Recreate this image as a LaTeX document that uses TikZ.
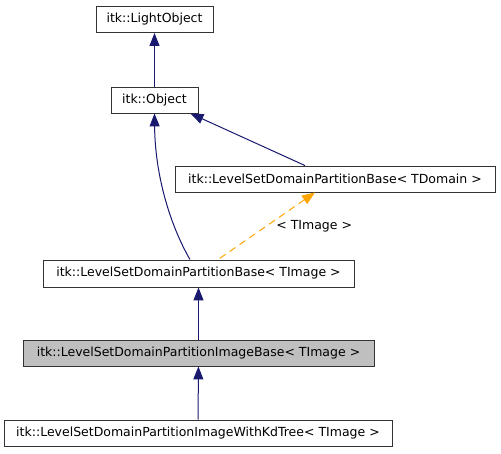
\documentclass[tikz,border=0pt]{standalone}
\usepackage{fontspec}
\setmainfont{DejaVu Sans}
\usepackage{tikz}
\usetikzlibrary{arrows.meta}
\usetikzlibrary{positioning}
\usetikzlibrary{calc}
\definecolor{navy}{HTML}{191970}
\definecolor{tplorange}{HTML}{FFA500}
\definecolor{boxgray}{HTML}{BFBFBF}
\tikzset{
  cls/.style = {draw=black!80, line width=0.9pt, rectangle, inner sep=0pt, minimum height=26pt,
    font=\fontsize{12.5}{15}\selectfont, text centered},% classe
  cls_cur/.style = {cls, fill=boxgray},% classe courante
  inh/.style = {navy, line width=1pt, {Triangle[length=13pt,width=10pt]}-},% heritage
  tpl/.style = {tplorange, line width=1pt, dash pattern=on 7pt off 5pt,
    {Triangle[length=13pt,width=10pt]}-}% instance de template
}
\begin{document}
\begin{tikzpicture}[x=1pt,y=-1pt]
\useasboundingbox (0,0) rectangle (501,453);
\node [cls, minimum width=117pt] (light) at (154.5,19.5) {itk::LightObject};
\node [cls, minimum width=87pt] (obj) at (154.5,100) {itk::Object};
\node [cls, minimum width=320pt] (dom) at (335,179) {itk::LevelSetDomainPartitionBase< TDomain >};
\node [cls, minimum width=311pt, minimum height=27pt] (base) at (198.5,273.5) {itk::LevelSetDomainPartitionBase< TImage >};
\node [cls_cur, minimum width=351pt] (imgbase) at (198.5,353) {itk::LevelSetDomainPartitionImageBase< TImage >};
\node [cls, minimum width=388pt] (kd) at (198,433) {itk::LevelSetDomainPartitionImageWithKdTree< TImage >};

\draw[inh] (light) -- (obj);
\draw[inh] (obj.south) .. controls (155,175) and (170,225) .. ([xshift=-8.5pt]base.north);
\draw[inh] ([xshift=-8pt]obj.south east) -- ([xshift=-30pt]dom.north);
\draw[tpl] ([xshift=-20pt]dom.south) -- node[black, right=6pt, font=\fontsize{12.5}{15}\selectfont] (lbl) {< TImage >} ([xshift=19.5pt]base.north);
\draw[inh] (base) -- (imgbase);
\draw[inh] (imgbase) -- (kd);
\end{tikzpicture}
\end{document}
